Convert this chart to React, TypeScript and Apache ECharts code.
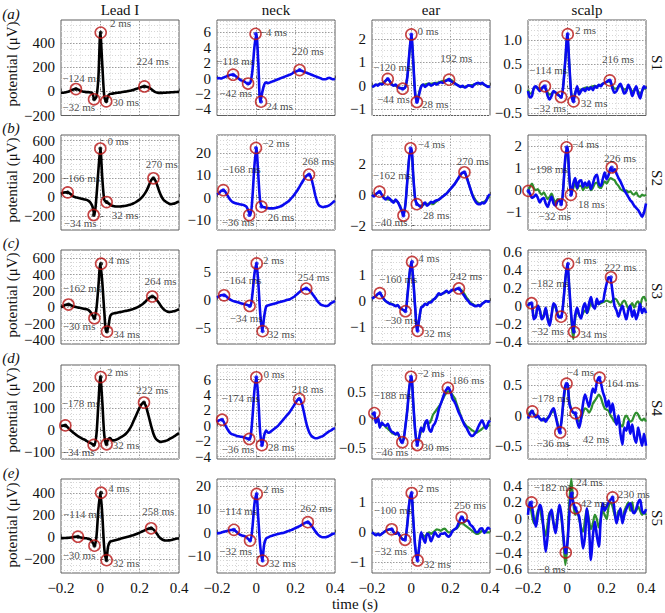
import React, { useEffect, useRef } from "react";
import * as echarts from "echarts";

// ---------- time axis (s) ----------
const TIME = [
  -0.2, -0.19, -0.18, -0.17, -0.16, -0.15, -0.14, -0.13, -0.12, -0.11,
  -0.1, -0.09, -0.08, -0.07, -0.06, -0.05, -0.04, -0.03, -0.02, -0.01,
  0, 0.01, 0.02, 0.03, 0.04, 0.05, 0.06, 0.07, 0.08, 0.09,
  0.1, 0.11, 0.12, 0.13, 0.14, 0.15, 0.16, 0.17, 0.18, 0.19,
  0.2, 0.21, 0.22, 0.23, 0.24, 0.25, 0.26, 0.27, 0.28, 0.29,
  0.3, 0.31, 0.32, 0.33, 0.34, 0.35, 0.36, 0.37, 0.38, 0.39,
  0.4,
];

const COLUMNS = ["Lead I", "neck", "ear", "scalp"];
const ROW_TAGS = ["(a)", "(b)", "(c)", "(d)", "(e)"];
const SUBJECTS = ["S1", "S2", "S3", "S4", "S5"];
const X_TICKS = [-0.2, 0, 0.2, 0.4];

// ---------- row (a) ----------
const LEAD_A = [
  -10, -10, -8, -5, 0, 8, 15, 20, 20, 14,
  5, 0, -3, -5, -5, -8, -15, -65, -45, 110,
  490, 220, -40, -85, -35, -20, -18, -15, -12, -10,
  -8, -5, -2, 0, 3, 6, 10, 14, 20, 26,
  32, 38, 42, 42, 38, 30, 18, 5, -5, -10,
  -12, -12, -11, -10, -9, -8, -7, -6, -5, -4,
  -3,
];
const NECK_A = [
  0, 0.05, 0, 0.1, 0.2, 0.3, 0.4, 0.5, 0.5, 0.4,
  0.2, 0, -0.2, -0.3, -0.4, -0.6, -0.7, -0.5, 1, 4,
  5.8, 2, -3, -1.8, -0.8, -0.5, -0.6, -0.5, -0.4, -0.3,
  -0.2, -0.1, 0, 0.1, 0.2, 0.3, 0.4, 0.5, 0.6, 0.8,
  0.9, 1, 1.1, 1, 0.9, 0.8, 0.7, 0.6, 0.5, 0.4,
  0.3, 0.2, 0.1, 0, -0.1, -0.1, 0, 0.1, 0, -0.1,
  0,
];
const EAR_A_BLUE = [
  -0.05, -0.02, 0.05, 0, 0.08, 0.05, 0.12, 0.22, 0.29, 0.2,
  0.05, 0, 0.05, -0.05, -0.1, -0.12, -0.13, -0.05, 0.4, 1.4,
  2.2, 1, -0.4, -0.7, -0.35, -0.05, 0.05, -0.05, 0.02, 0.08,
  0, 0.05, 0.1, 0.05, 0.12, 0.15, 0.12, 0.18, 0.22, 0.26,
  0.2, 0.15, 0.1, 0.05, 0, -0.05, 0, -0.08, -0.05, 0.02,
  0, -0.05, 0.05, 0.1, 0.12, 0.08, 0.12, 0.05, 0, -0.05,
  -0.02,
];
const EAR_A_GREEN = [
  -0.05, 0, 0.03, 0.05, 0.08, 0.1, 0.15, 0.22, 0.27, 0.2,
  0.08, 0.02, 0, -0.05, -0.08, -0.1, -0.12, -0.05, 0.4, 1.4,
  2.15, 1, -0.35, -0.65, -0.3, 0, 0.05, 0.05, 0.08, 0.1,
  0.08, 0.1, 0.12, 0.12, 0.15, 0.18, 0.2, 0.22, 0.25, 0.27,
  0.25, 0.2, 0.12, 0.05, 0, -0.03, -0.05, -0.05, -0.03, 0,
  0.02, 0.03, 0.05, 0.08, 0.1, 0.1, 0.08, 0.05, 0, -0.02,
  -0.02,
];
const SCALP_A_BLUE = [
  -0.05, -0.18, -0.15, 0.02, 0.05, 0, -0.05, 0, 0.05, 0,
  -0.15, -0.22, -0.15, -0.05, -0.08, -0.12, -0.15, -0.17, 0.1, 0.6,
  1.12, 0.5, -0.1, -0.26, -0.1, 0.05, -0.12, -0.05, 0, -0.05,
  0.02, -0.02, 0.03, -0.03, 0.05, 0.02, 0.08, 0.05, 0.1, 0.12,
  0.14, 0.17, 0.15, 0, -0.08, -0.05, 0.05, 0.1, 0, -0.1,
  -0.05, 0.08, 0, -0.15, -0.05, 0.05, -0.1, -0.2, -0.05, 0.05,
  0,
];
const SCALP_A_GREEN = [
  -0.02, -0.1, -0.08, 0, 0.03, 0.02, 0, 0.02, 0.04, 0,
  -0.08, -0.12, -0.1, -0.06, -0.08, -0.1, -0.14, -0.16, 0.1, 0.6,
  1.1, 0.5, -0.1, -0.22, -0.08, 0, -0.05, -0.02, 0, 0.02,
  0.03, 0.02, 0.04, 0.05, 0.06, 0.05, 0.07, 0.08, 0.1, 0.12,
  0.14, 0.15, 0.12, 0.06, 0, 0, 0.04, 0.05, 0.02, -0.02,
  0, 0.03, 0, -0.05, -0.03, 0, -0.05, -0.1, -0.05, 0,
  0,
];

// ---------- row (b) ----------
const LEAD_B = [
  35, 45, 50, 50, 45, 30, 10, 0, -5, -10,
  -15, -20, -25, -30, -40, -60, -100, -190, 0, 280,
  516, 200, -30, -53, -65, -80, -92, -98, -100, -100,
  -100, -98, -95, -92, -88, -82, -75, -65, -55, -40,
  -25, -5, 20, 50, 90, 140, 185, 200, 175, 120,
  60, 10, -25, -45, -60, -70, -75, -72, -65, -55,
  -45,
];
const NECK_B = [
  1.5, 2, 3, 3.4, 3, 1.5, 0, -1.2, -2, -2.4,
  -2.6, -2.8, -3, -3.2, -3.5, -4, -6, -7.8, 0, 14,
  22.4, 10, -2, -4, -4.3, -4.5, -4.7, -4.8, -4.8, -4.7,
  -4.5, -4.3, -4, -3.6, -3, -2.4, -1.8, -1, 0, 1,
  2.2, 3.5, 5, 6.5, 8, 9.3, 10.2, 10.4, 8.5, 5,
  1, -2, -3.5, -4, -4.2, -4, -3.8, -3.4, -2.8, -2,
  -1.4,
];
const EAR_B_BLUE = [
  0, -0.1, 0.05, 0.15, 0.2, 0, -0.2, -0.3, -0.15, -0.25,
  -0.4, -0.5, -0.3, -0.45, -0.7, -1, -1.34, -0.6, 1, 2.5,
  3, 1.2, -0.3, -0.6, -0.7, -0.8, -0.6, -0.5, -0.7, -0.6,
  -0.45, -0.5, -0.4, -0.35, -0.3, -0.2, -0.1, 0, 0.1, 0.25,
  0.4, 0.55, 0.7, 0.9, 1.1, 1.3, 1.45, 1.47, 1.2, 0.8,
  0.4, 0, -0.3, -0.5, -0.6, -0.6, -0.5, -0.55, -0.4, -0.1,
  0.05,
];
const EAR_B_GREEN = [
  0, -0.05, 0.05, 0.15, 0.18, 0, -0.15, -0.25, -0.3, -0.32,
  -0.35, -0.4, -0.4, -0.45, -0.65, -0.95, -1.3, -0.6, 1, 2.5,
  2.95, 1.2, -0.3, -0.6, -0.7, -0.7, -0.65, -0.6, -0.6, -0.55,
  -0.55, -0.6, -0.5, -0.4, -0.3, -0.2, -0.1, 0, 0.1, 0.25,
  0.4, 0.55, 0.7, 0.9, 1.1, 1.3, 1.42, 1.45, 1.2, 0.8,
  0.4, 0.05, -0.2, -0.4, -0.5, -0.55, -0.5, -0.45, -0.35, -0.2,
  -0.1,
];
const SCALP_B_BLUE = [
  -0.03, -0.15, -0.35, -0.3, -0.2, -0.35, -0.55, -0.4, -0.35, -0.6,
  -0.75, -0.5, -0.3, -0.6, -0.7, -0.5, -0.45, -0.64, 0.2, 1.5,
  1.94, 0.6, -0.21, 0.3, 0.55, 0.1, 0.4, 0.45, 0.15, 0.35,
  0.2, 0.4, 0.05, 0.3, 0.6, 0.7, 0.3, 0.2, 0.5, 0.8,
  0.5, 0.7, 1, 0.85, 0.95, 0.75, 0.55, 0.4, 0.2, 0,
  -0.15, -0.3, -0.45, -0.55, -0.7, -0.8, -0.9, -1.05, -1.2, -1,
  -0.6,
];
const SCALP_B_GREEN = [
  -0.03, 0.15, 0.3, 0.1, 0, 0.05, -0.1, -0.2, -0.1, -0.25,
  -0.4, -0.3, -0.15, -0.4, -0.55, -0.4, -0.45, -0.6, 0.2, 1.4,
  1.85, 0.6, -0.2, 0.1, 0.3, 0.05, 0.2, 0.2, 0, 0.15,
  0.1, 0.2, 0, 0.1, 0.3, 0.35, 0.15, 0.1, 0.25, 0.4,
  0.3, 0.45, 0.55, 0.5, 0.45, 0.3, 0.2, 0.05, 0, -0.05,
  0, -0.1, -0.05, -0.15, -0.2, -0.1, -0.25, -0.3, -0.2, -0.25,
  -0.2,
];

// ---------- row (c) ----------
const LEAD_C = [
  0, 10, 25, 32, 33, 25, 12, 5, 0, -5,
  -10, -15, -20, -25, -35, -60, -100, -135, -20, 250,
  532, 300, -50, -298, -250, -110, -80, -75, -70, -65,
  -60, -55, -50, -45, -40, -35, -28, -20, -10, 0,
  15, 30, 50, 70, 95, 115, 128, 128, 110, 80,
  45, 10, -20, -40, -52, -58, -55, -50, -45, -35,
  -25,
];
const NECK_C = [
  0.4, 0.6, 0.8, 0.85, 0.8, 0.5, 0.2, 0, -0.2, -0.3,
  -0.4, -0.5, -0.6, -0.7, -0.8, -0.9, -1, -1.1, 1, 4.5,
  6.5, 3, -2.5, -5.6, -3, -1.2, -1, -0.9, -0.8, -0.7,
  -0.6, -0.5, -0.4, -0.3, -0.2, -0.1, 0, 0.1, 0.3, 0.5,
  0.8, 1.1, 1.4, 1.7, 1.9, 2, 1.95, 1.7, 1.3, 0.8,
  0.3, -0.2, -0.6, -0.9, -1, -1.1, -1.1, -0.9, -0.6, -0.4,
  -0.2,
];
const EAR_C_BLUE = [
  0.1, 0.15, 0.2, 0.28, 0.31, 0.2, 0.08, 0, -0.05, -0.1,
  -0.12, -0.15, -0.2, -0.15, -0.25, -0.3, -0.35, -0.39, 0.2, 1,
  1.52, 0.8, -0.3, -1.15, -0.7, -0.25, -0.2, -0.1, -0.15, -0.05,
  -0.05, 0.05, 0.1, 0.2, 0.3, 0.25, 0.3, 0.35, 0.4, 0.32,
  0.38, 0.45, 0.42, 0.48, 0.49, 0.42, 0.3, 0.2, 0.08, 0,
  -0.1, -0.13, -0.18, -0.2, -0.15, -0.2, -0.1, -0.05, 0, -0.02,
  0,
];
const EAR_C_GREEN = [
  0.1, 0.15, 0.2, 0.27, 0.3, 0.2, 0.08, 0, -0.05, -0.08,
  -0.1, -0.14, -0.18, -0.17, -0.24, -0.3, -0.35, -0.38, 0.2, 1,
  1.5, 0.8, -0.3, -1.1, -0.7, -0.25, -0.18, -0.12, -0.1, -0.05,
  0, 0.05, 0.1, 0.18, 0.25, 0.25, 0.3, 0.33, 0.36, 0.35,
  0.38, 0.42, 0.44, 0.47, 0.48, 0.45, 0.38, 0.28, 0.15, 0.05,
  -0.05, -0.1, -0.15, -0.18, -0.15, -0.15, -0.1, -0.05, 0, 0,
  0,
];
const SCALP_C_BLUE = [
  0, 0.03, 0.02, -0.15, -0.12, 0, -0.05, -0.15, -0.12, -0.02,
  -0.15, -0.22, -0.1, 0.03, 0, -0.1, -0.13, -0.12, 0.05, 0.3,
  0.47, 0.2, -0.1, -0.29, -0.1, -0.02, -0.1, -0.14, -0.02, 0.03,
  -0.08, 0.02, 0.1, 0, -0.03, 0.08, 0.02, 0.05, 0.05, 0.15,
  0.25, 0.32, 0.3, 0.15, 0, -0.05, -0.12, -0.05, 0, -0.08,
  -0.15, -0.05, 0, -0.12, -0.05, -0.15, -0.08, 0.02, -0.08, -0.03,
  -0.08,
];
const SCALP_C_GREEN = [
  0, 0.03, 0, -0.12, -0.1, 0, -0.04, -0.12, -0.1, -0.03,
  -0.12, -0.18, -0.1, 0, -0.02, -0.08, -0.12, -0.12, 0.05, 0.3,
  0.46, 0.2, -0.15, -0.37, -0.15, -0.05, -0.1, -0.12, -0.08, -0.05,
  -0.08, -0.03, 0.03, 0, -0.02, 0.03, 0.02, 0.03, 0.04, 0.05,
  0.06, 0.05, 0.04, 0.06, 0.08, 0.07, 0.03, 0, 0.04, 0.06,
  0.02, -0.03, 0, 0.03, -0.02, 0.03, 0.05, 0, 0.08, 0.1,
  0.05,
];

// ---------- row (d) ----------
const LEAD_D = [
  20, 22, 23, 18, 8, 0, -8, -15, -22, -28,
  -33, -38, -42, -48, -53, -58, -62, -66, -20, 120,
  243, 130, -20, -63, -40, -35, -45, -45, -42, -38,
  -33, -28, -22, -15, -5, 8, 25, 45, 65, 85,
  105, 120, 127, 115, 85, 50, 15, -15, -35, -45,
  -50, -52, -50, -48, -45, -40, -35, -30, -25, -18,
  -12,
];
const NECK_D = [
  0.5, 0.7, 0.8, 0.7, 0.2, -0.3, -0.7, -1, -1.1, -1.2,
  -1.3, -1.35, -1.4, -1.45, -1.5, -1.6, -1.7, -1.5, 1, 4.5,
  6.3, 3.5, -1, -2.5, -1.2, -0.6, -0.9, -0.8, -0.6, -0.4,
  -0.2, 0, 0.3, 0.6, 0.9, 1.2, 1.5, 1.8, 2.2, 2.6,
  3, 3.4, 3.5, 3, 2, 0.8, -0.2, -0.9, -1.3, -1.5,
  -1.6, -1.6, -1.5, -1.4, -1.3, -1.1, -0.9, -0.7, -0.6, -0.4,
  -0.3,
];
const EAR_D_BLUE = [
  0.1, 0.13, -0.04, 0.05, -0.13, -0.04, -0.08, -0.1, -0.06, -0.15,
  -0.2, -0.22, -0.25, -0.22, -0.3, -0.39, -0.35, -0.1, 0.2, 0.6,
  0.78, 0.3, -0.2, -0.44, -0.3, -0.13, -0.2, -0.05, 0, -0.15,
  -0.2, -0.1, -0.05, 0.05, 0.2, 0.3, 0.4, 0.5, 0.56, 0.58,
  0.5, 0.38, 0.33, 0.25, 0.15, 0.08, 0, -0.08, -0.13, -0.2,
  -0.26, -0.28, -0.25, -0.2, -0.12, -0.05, 0, -0.08, -0.15, -0.05,
  0,
];
const EAR_D_GREEN = [
  0.1, 0.12, 0, 0.03, -0.1, -0.08, -0.08, -0.12, -0.15, -0.18,
  -0.22, -0.24, -0.25, -0.25, -0.3, -0.38, -0.33, -0.1, 0.2, 0.6,
  0.76, 0.3, -0.2, -0.4, -0.3, -0.2, -0.15, -0.05, -0.05, -0.05,
  0, 0.1, 0.15, 0.2, 0.25, 0.3, 0.38, 0.45, 0.5, 0.52,
  0.5, 0.45, 0.4, 0.3, 0.2, 0.1, 0, -0.05, -0.1, -0.12,
  -0.15, -0.18, -0.2, -0.22, -0.2, -0.18, -0.15, -0.12, -0.12, -0.1,
  -0.08,
];
const SCALP_D_BLUE = [
  -0.05, 0.02, 0.07, 0.02, -0.03, 0, -0.05, -0.08, -0.05, -0.1,
  -0.05, 0, 0.08, 0.12, 0, -0.15, -0.28, -0.1, 0.25, 0.5,
  0.53, 0.2, 0.1, 0.05, 0.04, -0.1, -0.2, -0.05, 0.2, 0.35,
  0.25, 0.15, 0.3, 0.45, 0.38, 0.55, 0.63, 0.55, 0.4, 0.3,
  0.15, 0.25, 0.05, 0.2, 0, -0.15, 0, -0.3, -0.48, -0.2,
  -0.25, -0.1, -0.3, -0.15, -0.35, -0.45, -0.2, -0.35, -0.5, -0.3,
  -0.5,
];
const SCALP_D_GREEN = [
  -0.03, 0.05, 0.08, 0.03, 0, -0.02, -0.05, -0.06, -0.08, -0.06,
  -0.04, 0, 0.05, 0.08, 0, -0.12, -0.25, -0.1, 0.2, 0.45,
  0.5, 0.25, 0.1, 0.05, 0.02, -0.05, -0.1, -0.05, 0.05, 0.12,
  0.1, 0.05, 0.1, 0.2, 0.25, 0.3, 0.35, 0.3, 0.2, 0.12,
  0.1, 0.08, 0, -0.05, -0.1, -0.12, -0.1, -0.15, -0.18, -0.05,
  0, -0.05, -0.1, -0.08, 0, 0.05, 0.02, -0.05, -0.08, -0.05,
  -0.1,
];

// ---------- row (e) ----------
const LEAD_E = [
  -8, -8, -7, -6, -5, -3, 0, 3, 5, 3,
  -2, -5, -8, -10, -15, -20, -45, -76, 0, 250,
  402, 200, -100, -207, -80, -40, -35, -30, -25, -20,
  -15, -10, -5, 0, 5, 10, 15, 20, 27, 34,
  42, 50, 58, 66, 74, 80, 81, 70, 50, 25,
  0, -15, -25, -30, -30, -28, -25, -20, -15, -12,
  -10,
];
const NECK_E = [
  -0.3, -0.2, 0, 0.3, 0.5, 0.7, 0.9, 1.1, 1.2, 1,
  0.3, -0.5, -1, -1.3, -1.5, -2, -2.8, -3.4, 2, 12,
  16.6, 6, -6, -12, -5, -2.5, -2, -1.6, -1.3, -1,
  -0.8, -0.6, -0.4, -0.2, 0, 0.3, 0.6, 0.9, 1.2, 1.6,
  2, 2.4, 2.8, 3.3, 3.8, 4.3, 4.5, 4, 3, 1.8,
  0.6, -0.5, -1.3, -1.8, -2, -2, -1.8, -1.4, -0.9, -0.5,
  -0.2,
];
const EAR_E_BLUE = [
  0, -0.05, -0.1, -0.05, -0.1, -0.05, 0, 0.05, 0.08, 0.1,
  0.1, 0, -0.05, 0, -0.1, -0.2, -0.25, -0.2, 0.3, 1,
  1.31, 0.4, -0.5, -0.94, -0.5, 0, -0.2, -0.35, -0.05, -0.1,
  -0.3, -0.15, 0, -0.1, -0.15, -0.05, -0.05, -0.02, -0.1, -0.15,
  -0.08, 0.05, 0.1, 0.15, 0.3, 0.45, 0.5, 0.35, 0.4, 0.38,
  0.25, 0.2, 0.1, 0, 0.02, 0.12, 0.13, -0.02, 0.05, 0.15,
  0.1,
];
const EAR_E_GREEN = [
  0, -0.05, -0.08, -0.05, -0.08, -0.05, 0, 0.05, 0.08, 0.1,
  0.1, 0.02, -0.03, -0.02, -0.1, -0.18, -0.23, -0.2, 0.3, 1,
  1.28, 0.4, -0.5, -0.9, -0.5, -0.05, -0.1, -0.15, -0.05, 0,
  -0.05, 0, 0.05, 0.1, 0.08, 0.05, 0.1, 0.12, 0.05, 0,
  0, 0.05, 0.1, 0.12, 0.2, 0.3, 0.3, 0.25, 0.2, 0.15,
  0.1, 0.05, 0, -0.05, -0.05, 0, 0.05, 0.05, 0, 0,
  0,
];
const SCALP_E_BLUE = [
  0.05, 0.2, 0.15, 0, -0.09, 0.05, 0.17, 0.1, -0.15, -0.39,
  -0.2, 0.05, 0.11, -0.05, -0.17, 0, 0.17, 0.05, -0.2, -0.4,
  -0.3, 0.05, 0.31, 0.2, 0.13, 0.08, 0.03, -0.15, -0.35, -0.2,
  0.13, -0.1, -0.49, -0.2, -0.03, -0.2, -0.33, 0, 0.19, 0.1,
  0.15, 0.2, 0.23, 0.26, 0.1, -0.05, 0.05, 0.13, -0.05, 0.05,
  0.12, 0.17, 0.19, 0.1, 0.07, 0.12, 0.2, 0.23, 0.1, 0.07,
  0.12,
];
const SCALP_E_GREEN = [
  0.1, 0.15, 0.05, -0.05, 0, 0.1, 0.12, 0, -0.1, -0.2,
  -0.05, 0.08, 0.05, -0.05, -0.1, 0.05, 0.15, 0, -0.25, -0.55,
  -0.3, 0.2, 0.48, 0.2, 0.05, 0.1, 0, -0.1, -0.15, 0,
  0.12, 0, -0.12, -0.05, 0.05, 0, -0.1, 0, 0.1, 0.05,
  0, 0.15, 0.2, 0.15, 0.05, 0, 0.1, 0.05, 0, 0.1,
  0.15, 0.2, 0.1, 0.2, 0.08, 0.1, 0.15, 0.1, 0.05, 0.08,
  0.05,
];

// ---------- annotated points [time (ms), value] ----------
const MARK_LEAD_A = [[-124, 20], [-32, -65], [2, 490], [30, -82], [224, 42]];
const MARK_NECK_A = [[-118, 0.5], [-42, -0.65], [-4, 5.8], [24, -3.0], [220, 1.1]];
const MARK_EAR_A = [[-120, 0.29], [-44, -0.13], [0, 2.2], [28, -0.7], [192, 0.26]];
const MARK_SCALP_A = [[-114, 0.05], [-32, -0.17], [2, 1.12], [32, -0.26], [216, 0.17]];
const MARK_LEAD_B = [[-166, 50], [-34, -190], [0, 516], [32, -53], [270, 200]];
const MARK_NECK_B = [[-168, 3.4], [-36, -7.8], [-2, 22.4], [26, -4], [268, 10.4]];
const MARK_EAR_B = [[-162, 0.21], [-40, -1.34], [-4, 3.03], [28, -0.6], [270, 1.47]];
const MARK_SCALP_B = [[-198, -0.03], [-32, -0.64], [-4, 1.94], [18, -0.21], [226, 1.03]];
const MARK_LEAD_C = [[-162, 33], [-30, -135], [4, 532], [34, -298], [264, 131]];
const MARK_NECK_C = [[-164, 0.8], [-34, -1.1], [2, 6.5], [32, -5.6], [254, 2.0]];
const MARK_EAR_C = [[-160, 0.31], [-30, -0.39], [4, 1.52], [32, -1.15], [242, 0.49]];
const MARK_SCALP_C = [[-182, 0.03], [-32, -0.12], [4, 0.47], [34, -0.29], [222, 0.32]];
const MARK_LEAD_D = [[-178, 23], [-34, -66], [2, 243], [32, -63], [222, 127]];
const MARK_NECK_D = [[-174, 0.8], [-36, -1.7], [0, 6.3], [28, -2.5], [218, 3.5]];
const MARK_EAR_D = [[-188, 0.13], [-46, -0.39], [-2, 0.78], [30, -0.44], [186, 0.58]];
const MARK_SCALP_D = [[-178, 0.07], [-36, -0.28], [-4, 0.53], [42, 0.04], [164, 0.63]];
const MARK_LEAD_E = [[-114, 5], [-30, -76], [4, 402], [32, -207], [258, 81]];
const MARK_NECK_E = [[-114, 1.2], [-32, -3.4], [2, 16.6], [32, -12], [262, 4.5]];
const MARK_EAR_E = [[-100, 0.1], [-32, -0.25], [2, 1.31], [32, -0.94], [256, 0.5]];
const MARK_SCALP_E = [[-182, 0.2], [-8, -0.4], [24, 0.31], [42, 0.13], [230, 0.26]];

// ---------- y axis limits [min, max, major step, minor step] ----------
const Y_LIMITS = [
  [-200, 595, 200, 50], [-4.8, 7.6, 2, 0.5], [-1.28, 2.82, 1, 0.25], [-0.55, 1.41, 0.5, 0.1],
  [-350, 660, 200, 50], [-14.5, 28.2, 10, 2], [-2.28, 3.89, 2, 0.5], [-1.8, 2.5, 1, 0.25],
  [-450, 700, 200, 50], [-7.9, 8.9, 5, 1], [-1.66, 1.98, 1, 0.25], [-0.426, 0.625, 0.2, 0.05],
  [-130, 298, 100, 25], [-4.3, 7.9, 2, 0.5], [-0.69, 0.99, 0.5, 0.1], [-0.72, 0.84, 0.5, 0.1],
  [-323, 526, 200, 50], [-17.3, 23, 10, 2], [-1.36, 1.78, 1, 0.25], [-0.645, 0.48, 0.2, 0.05],
];

const PANELS = [
  [LEAD_A, null, MARK_LEAD_A], [NECK_A, null, MARK_NECK_A], [EAR_A_BLUE, EAR_A_GREEN, MARK_EAR_A], [SCALP_A_BLUE, SCALP_A_GREEN, MARK_SCALP_A],
  [LEAD_B, null, MARK_LEAD_B], [NECK_B, null, MARK_NECK_B], [EAR_B_BLUE, EAR_B_GREEN, MARK_EAR_B], [SCALP_B_BLUE, SCALP_B_GREEN, MARK_SCALP_B],
  [LEAD_C, null, MARK_LEAD_C], [NECK_C, null, MARK_NECK_C], [EAR_C_BLUE, EAR_C_GREEN, MARK_EAR_C], [SCALP_C_BLUE, SCALP_C_GREEN, MARK_SCALP_C],
  [LEAD_D, null, MARK_LEAD_D], [NECK_D, null, MARK_NECK_D], [EAR_D_BLUE, EAR_D_GREEN, MARK_EAR_D], [SCALP_D_BLUE, SCALP_D_GREEN, MARK_SCALP_D],
  [LEAD_E, null, MARK_LEAD_E], [NECK_E, null, MARK_NECK_E], [EAR_E_BLUE, EAR_E_GREEN, MARK_EAR_E], [SCALP_E_BLUE, SCALP_E_GREEN, MARK_SCALP_E],
];

// ---------- layout (pixels) ----------
const COL_LEFT = [61, 217, 372, 528];
const COL_WIDTH = 118;
const ROW_TOP = [20, 135, 250, 365, 479];
const ROW_HEIGHT = [95.5, 95, 94, 94, 94];
const TAG_Y = [14, 128, 243, 358, 473];
const YLABEL_Y = [64, 180, 295, 410, 525];
const SUBJ_Y = [63, 178, 291, 408, 518];
// label offsets [dx, dy] of each annotation text (left edge, middle) from its circle
const LABEL_OFFSETS = [
  [[-13, -10], [-31, 9], [10, -9], [7, 1], [-7, -25]],
  [[-16, -13], [-28, 10], [5, -1], [6, 5], [-7, -18]],
  [[-14, -11], [-25, 11], [7, -3], [6, 3], [-8, -21]],
  [[-15, -15], [-27, 12], [8, -3], [8, 2], [-7, -21]],
  [[-5, -14], [-29, 9], [8, -7], [6, 14], [-7, -13]],
  [[0, -20], [-27, 8], [7, -4], [7, 11], [-6, -13]],
  [[-6, -16], [-28, 7], [8, -3], [7, 12], [-7, -10]],
  [[2, -21], [-22, 12], [6, -3], [8, 10], [-7, -9]],
  [[-5, -16], [-31, 9], [8, -3], [7, 3], [-7, -15]],
  [[0, -15], [-19, 13], [7, -3], [6, 4], [-8, -11]],
  [[0, -13], [-20, 10], [7, -3], [7, 3], [-8, -12]],
  [[0, -19], [-29, 15], [8, -3], [7, 3], [-6, -9]],
  [[-3, -22], [-31, 8], [7, -4], [7, 2], [-7, -12]],
  [[0, -21], [-27, 11], [8, -3], [7, 3], [-7, -9]],
  [[0, -17], [-26, 11], [7, -3], [6, 3], [5, -7]],
  [[0, -13], [-23, 11], [1, -11], [8, 27], [8, 6]],
  [[-14, -22], [-31, 10], [8, -4], [7, 4], [-8, -16]],
  [[-14, -18], [-30, 11], [7, -4], [7, 3], [-7, -13]],
  [[-17, -18], [-30, 12], [7, -4], [7, 4], [-7, -12]],
  [[3, -15], [-27, 17], [5, -10], [6, -4], [6, -3]],
];

const SERIF = "Liberation Serif";
const BLUE = "#0a0af0";
const GREEN = "#2f8f2f";
const BLACK = "#000000";
const RED = "#b81414";
const MINUS = "\u2212";

function stepValues(min: number, max: number, step: number): number[] {
  const out: number[] = [];
  const k0 = Math.ceil(min / step - 1e-7);
  const k1 = Math.floor(max / step + 1e-7);
  for (let k = k0; k <= k1; k++) out.push(+(k * step).toFixed(6));
  return out;
}
function isMultiple(v: number, step: number) {
  const r = v / step;
  return Math.abs(r - Math.round(r)) < 1e-6;
}
function fmtNum(v: number, step: number) {
  if (Math.abs(v) < 1e-9) return "0";
  const dec = step >= 1 ? 0 : 1;
  return (v < 0 ? MINUS : "") + Math.abs(v).toFixed(dec);
}
function msText(ms: number) {
  return (ms < 0 ? MINUS + Math.abs(ms) : String(ms)) + " ms";
}

function gridLines(min: number, max: number, major: number, minor: number, dim: "xAxis" | "yAxis") {
  const eps = (max - min) * 1e-4;
  const items: any[] = [];
  stepValues(min, max, minor).forEach((v) => {
    if (Math.abs(v - min) < eps || Math.abs(v - max) < eps) return;
    const maj = isMultiple(v, major);
    items.push({
      [dim]: v,
      lineStyle: maj
        ? { color: "#9c9c9c", width: 1, type: [1.5, 1.5] }
        : { color: "#d6d6d6", width: 1, type: [1, 2] },
    });
  });
  return items;
}

function buildOption() {
  const grid: any[] = [];
  const xAxis: any[] = [];
  const yAxis: any[] = [];
  const series: any[] = [];
  const graphics: any[] = [];

  PANELS.forEach((panel, i) => {
    const row = Math.floor(i / 4);
    const col = i % 4;
    const [main, green, marks] = panel as [number[], number[] | null, number[][]];
    const [ymin, ymax, major, minor] = Y_LIMITS[i];
    const color = col === 0 ? BLACK : BLUE;

    grid.push({
      left: COL_LEFT[col],
      top: ROW_TOP[row],
      width: COL_WIDTH,
      height: ROW_HEIGHT[row],
      show: true,
      borderColor: "#5e5e5e",
      borderWidth: 1,
      backgroundColor: "#ffffff",
      containLabel: false,
      outerBoundsMode: "none",
    });
    xAxis.push({
      type: "value",
      gridIndex: i,
      min: -0.2,
      max: 0.4,
      axisLine: { show: false },
      splitLine: { show: false },
      axisTick: { show: true, inside: true, length: 3, customValues: X_TICKS, lineStyle: { color: "#555" } },
      axisLabel: {
        show: row === 4,
        customValues: X_TICKS,
        formatter: (v: number) => fmtNum(v, 0.2),
        margin: 7,
        fontSize: 15,
        fontFamily: SERIF,
        color: "#111",
        showMinLabel: true,
        showMaxLabel: true,
      },
    });
    const majors = stepValues(ymin, ymax, major);
    yAxis.push({
      type: "value",
      gridIndex: i,
      min: ymin,
      max: ymax,
      axisLine: { show: false },
      splitLine: { show: false },
      axisTick: { show: true, inside: true, length: 3, customValues: majors, lineStyle: { color: "#555" } },
      axisLabel: {
        customValues: majors,
        formatter: (v: number) => fmtNum(v, major),
        margin: 6,
        fontSize: 15,
        fontFamily: SERIF,
        color: "#111",
        showMinLabel: true,
        showMaxLabel: true,
      },
    });

    series.push({
      type: "line",
      xAxisIndex: i,
      yAxisIndex: i,
      data: [],
      z: 1,
      silent: true,
      markLine: {
        silent: true,
        z: 1,
        symbol: ["none", "none"],
        label: { show: false },
        emphasis: { disabled: true },
        animation: false,
        data: [
          ...gridLines(-0.2, 0.4, 0.2, 0.05, "xAxis"),
          ...gridLines(ymin, ymax, major, minor, "yAxis"),
        ],
      },
    });

    if (green) {
      series.push({
        type: "line",
        xAxisIndex: i,
        yAxisIndex: i,
        data: TIME.map((t, k) => [t, green[k]]),
        symbol: "none",
        smooth: 0.3,
        lineStyle: { color: GREEN, width: 2.2 },
        z: 3,
        silent: true,
      });
    }
    series.push({
      type: "line",
      xAxisIndex: i,
      yAxisIndex: i,
      data: TIME.map((t, k) => [t, main[k]]),
      symbol: "none",
      smooth: 0.3,
      lineStyle: { color, width: 2.6 },
      z: 4,
      silent: true,
    });
    series.push({
      type: "scatter",
      xAxisIndex: i,
      yAxisIndex: i,
      data: marks.map((m) => [m[0] / 1000, m[1]]),
      symbol: "circle",
      symbolSize: 4,
      itemStyle: { color },
      z: 5,
      silent: true,
    });
    series.push({
      type: "scatter",
      xAxisIndex: i,
      yAxisIndex: i,
      symbol: "circle",
      symbolSize: 11,
      itemStyle: { color: "rgba(0,0,0,0)", borderColor: RED, borderWidth: 1.6 },
      z: 6,
      silent: true,
      data: marks.map((m, k) => ({
        value: [m[0] / 1000, m[1]],
        label: {
          show: true,
          formatter: msText(m[0]),
          position: [5.5 + LABEL_OFFSETS[i][k][0], 5.5 + LABEL_OFFSETS[i][k][1]],
          align: "left",
          verticalAlign: "middle",
          fontSize: 11,
          fontFamily: SERIF,
          color: "#1a1a1a",
        },
      })),
    });
  });

  const txt = (text: string, x: number, y: number, size: number, extra: any = {}, rotation = 0) => ({
    type: "text",
    x,
    y,
    rotation,
    silent: true,
    z: 10,
    style: {
      text,
      fill: "#111",
      fontSize: size,
      fontFamily: SERIF,
      align: "center",
      verticalAlign: "middle",
      textAlign: "center",
      textVerticalAlign: "middle",
      ...extra,
    },
  });

  COLUMNS.forEach((c, k) => graphics.push(txt(c, COL_LEFT[k] + COL_WIDTH / 2, 10, 15)));
  ROW_TAGS.forEach((t, r) => {
    graphics.push(txt(t, 11, TAG_Y[r], 15, { fontStyle: "italic" }));
    graphics.push(txt("potential (\u03bcV)", 12, YLABEL_Y[r], 15, {}, Math.PI / 2));
    graphics.push(txt(SUBJECTS[r], 657, SUBJ_Y[r], 15, {}, -Math.PI / 2));
  });
  graphics.push(txt("time (s)", 355, 604, 15));

  return {
    animation: false,
    backgroundColor: "#ffffff",
    textStyle: { fontFamily: SERIF },
    grid,
    xAxis,
    yAxis,
    series,
    graphic: { elements: graphics },
  };
}

export default function App() {
  const ref = useRef<HTMLDivElement>(null);
  useEffect(() => {
    if (!ref.current) return;
    const chart = echarts.init(ref.current, null, { renderer: "svg" });
    chart.setOption(buildOption() as any);
    return () => chart.dispose();
  }, []);
  return (
    <div
      ref={ref}
      style={{ position: "absolute", left: 0, top: 0, width: 665, height: 613, background: "#fff" }}
    />
  );
}
